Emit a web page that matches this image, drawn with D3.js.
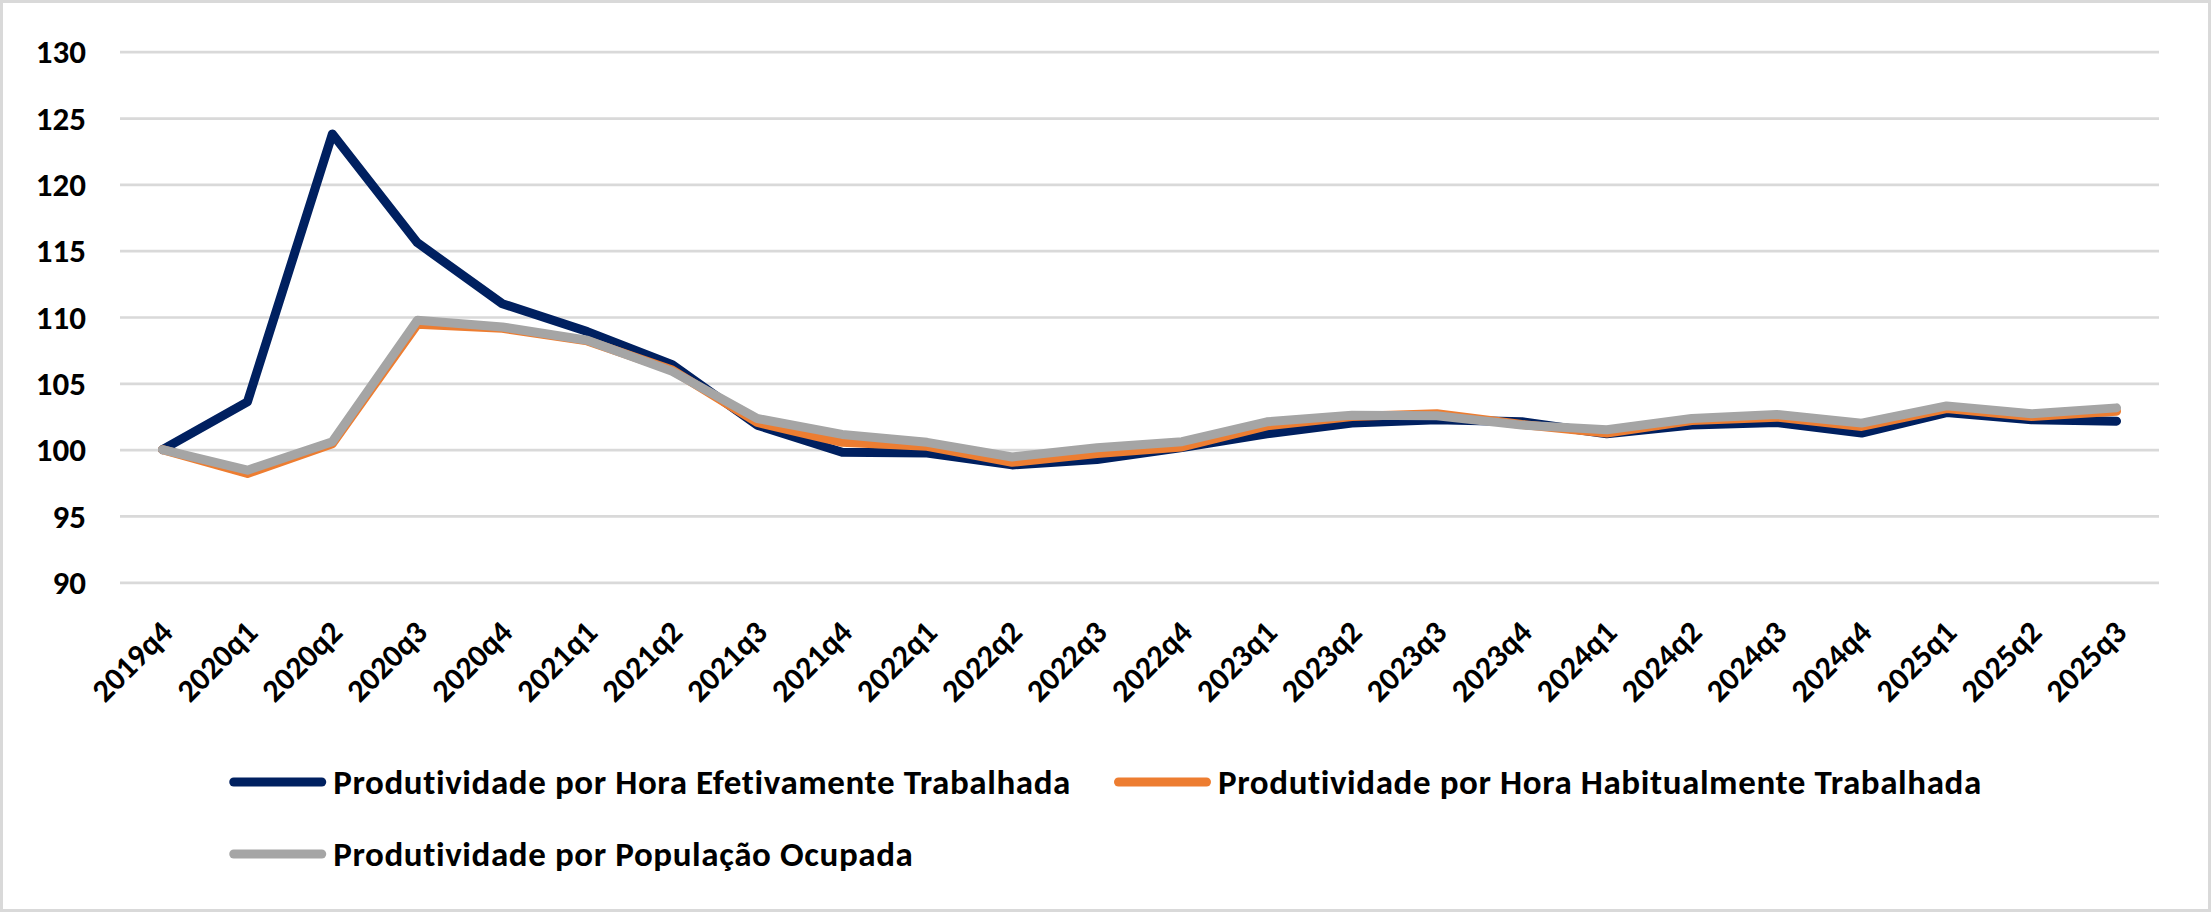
<!DOCTYPE html>
<html lang="pt">
<head>
    <meta charset="UTF-8">
    <script src="https://d3js.org/d3.v7.min.js"></script>
    <title>Produtividade</title>
    <style>
        body {
            margin: 0;
            background-color: #fff;
        }
        text {
            font-family: Carlito, Lato, sans-serif;
            font-weight: 700;
            font-size: 32px;
            fill: #000;
        }
        .ylabels text {
            font-size: 33px;
        }
        .legend text {
            font-size: 35px;
            letter-spacing: 0.6px;
        }
        .grid line {
            stroke: #d9d9d9;
            stroke-width: 2.7px;
        }
        .grid path {
            stroke: none;
        }
        .series {
            fill: none;
            stroke-width: 9px;
            stroke-linejoin: round;
            stroke-linecap: round;
        }
    </style>
</head>
<body>
    <svg width="2211" height="912"></svg>
    <script>
        // Data
        const quarters = ["2019q4", "2020q1", "2020q2", "2020q3", "2020q4", "2021q1", "2021q2", "2021q3",
            "2021q4", "2022q1", "2022q2", "2022q3", "2022q4", "2023q1", "2023q2", "2023q3", "2023q4",
            "2024q1", "2024q2", "2024q3", "2024q4", "2025q1", "2025q2", "2025q3"];

        const porHoraEfetiva = [100, 103.6, 123.8, 115.6, 111.0, 108.9, 106.4, 101.85, 99.8, 99.75, 98.85, 99.25,
            100.15, 101.2, 102.0, 102.25, 102.1, 101.2, 101.85, 102.05, 101.25, 102.8, 102.25, 102.15];

        const porHoraHabitual = [100, 98.2, 100.45, 109.45, 109.15, 108.2, 106.0, 102.05, 100.55, 100.25, 99.05, 99.7,
            100.2, 101.8, 102.5, 102.7, 101.9, 101.25, 102.2, 102.45, 101.75, 103.1, 102.5, 102.9];

        const porPopOcupada = [100, 98.45, 100.6, 109.75, 109.25, 108.25, 105.9, 102.35, 101.15, 100.55, 99.45, 100.15,
            100.6, 102.1, 102.6, 102.55, 101.85, 101.5, 102.35, 102.65, 102.0, 103.3, 102.7, 103.15];

        const seriesNames = [
            "Produtividade por Hora Efetivamente Trabalhada",
            "Produtividade por Hora Habitualmente Trabalhada",
            "Produtividade por População Ocupada"
        ];
        const seriesColors = ["#002060", "#ed7d31", "#a5a5a5"];
        const yTicks = [90, 95, 100, 105, 110, 115, 120, 125, 130];

        const series = [porHoraEfetiva, porHoraHabitual, porPopOcupada].map((values, i) => ({
            name: seriesNames[i],
            color: seriesColors[i],
            values: values
        }));

        // Dimensions
        const width = 2211;
        const height = 912;
        const margin = { top: 51.7, right: 52, bottom: 329.7, left: 120 };

        const svg = d3.select("svg");

        // Chart border
        svg.append("rect")
            .attr("x", 1.5)
            .attr("y", 1.5)
            .attr("width", width - 3)
            .attr("height", height - 3)
            .attr("fill", "#fff")
            .attr("stroke", "#d9d9d9")
            .attr("stroke-width", 3);

        // Scales
        const x = d3.scalePoint()
            .domain(quarters)
            .range([margin.left, width - margin.right])
            .padding(0.5);

        const y = d3.scaleLinear()
            .domain([90, 130])
            .range([height - margin.bottom, margin.top]);

        // Gridlines
        svg.append("g")
            .attr("class", "grid")
            .attr("transform", `translate(${margin.left},0)`)
            .call(d3.axisLeft(y).tickValues(yTicks).tickSize(-(width - margin.left - margin.right)).tickFormat(""));

        // Y-axis labels
        svg.append("g")
            .attr("class", "ylabels")
            .selectAll("text")
            .data(yTicks)
            .enter().append("text")
            .attr("x", 86)
            .attr("y", d => y(d))
            .attr("dy", "0.35em")
            .attr("text-anchor", "end")
            .text(d => d);

        // X-axis labels (rotated)
        svg.append("g")
            .selectAll("text")
            .data(quarters)
            .enter().append("text")
            .attr("transform", d => `translate(${x(d) + 4},${y(90) + 44}) rotate(-45)`)
            .attr("dy", "0.35em")
            .attr("text-anchor", "end")
            .text(d => d);

        // Lines
        const line = d3.line()
            .x((d, i) => x(quarters[i]))
            .y(d => y(d));

        svg.selectAll(".series")
            .data(series)
            .enter().append("path")
            .attr("class", "series")
            .attr("stroke", d => d.color)
            .attr("d", d => line(d.values));

        // Legend: two columns, centered
        const sampleLen = 97;
        const textGap = 7;
        const rowY = [782, 854];

        const legend = svg.append("g").attr("class", "legend");
        const items = legend.selectAll("g")
            .data(series)
            .enter().append("g");

        items.append("line")
            .attr("x1", 4.5)
            .attr("x2", sampleLen - 4.5)
            .attr("stroke", d => d.color)
            .attr("stroke-width", 9)
            .attr("stroke-linecap", "round");

        items.append("text")
            .attr("x", sampleLen + textGap)
            .attr("dy", "0.35em")
            .text(d => d.name);

        const itemWidths = [];
        items.each(function () {
            itemWidths.push(sampleLen + textGap + d3.select(this).select("text").node().getComputedTextLength());
        });
        const colWidth = d3.max(itemWidths) + 17;
        const legendWidth = colWidth + itemWidths[1];
        const legendX = (width - legendWidth) / 2;

        items.attr("transform", (d, i) => `translate(${legendX + (i % 2) * colWidth},${rowY[Math.floor(i / 2)]})`);
    </script>
</body>
</html>
